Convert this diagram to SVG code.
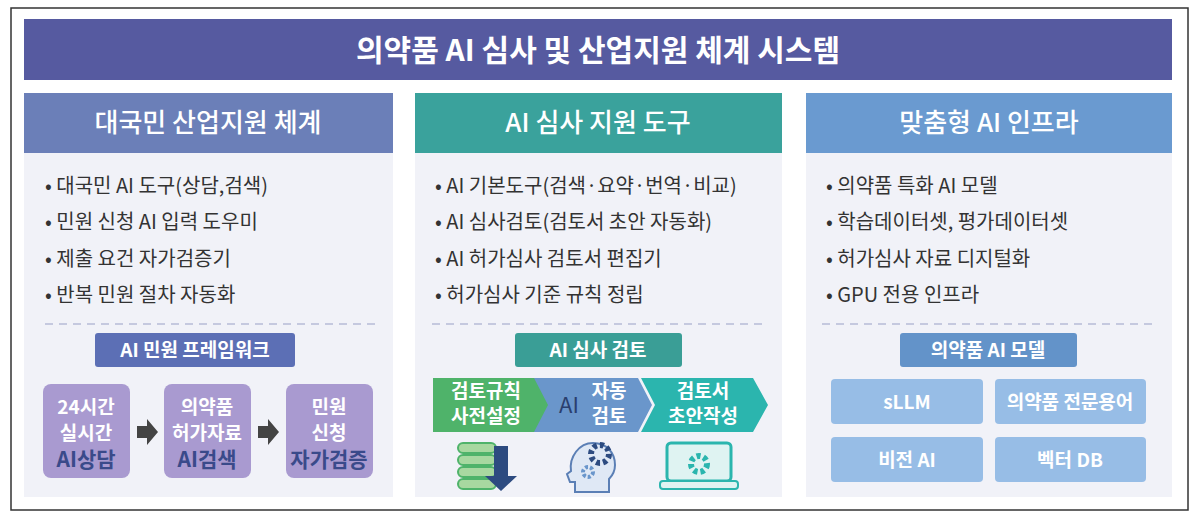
<svg xmlns="http://www.w3.org/2000/svg" width="1200" height="523" viewBox="0 0 1200 523">
<style>
text{font-family:"Noto Sans CJK KR","Noto Sans",sans-serif}
.hd{fill:#fff;font-size:26px;font-weight:500;text-anchor:middle}
.bl{fill:#333;font-size:20px}
.bd{fill:#fff;font-size:19px;font-weight:700;text-anchor:middle}
.bx{font-size:19px;font-weight:700;text-anchor:middle}
.panel{fill:#f1f2f8}
.dash{stroke:#c5c9df;stroke-width:2;stroke-dasharray:8 6}
</style>
<rect width="1200" height="523" fill="#fff"/>
<rect x="11" y="8" width="1177" height="502" fill="#fff" stroke="#333" stroke-width="1.5"/>
<g id="title"><rect x="24" y="19" width="1148" height="61" fill="#565aa0"/><text x="598" y="61" fill="#fff" font-size="30" font-weight="700" text-anchor="middle">의약품 AI 심사 및 산업지원 체계  시스템</text></g>

<g id="col1">
<rect x="24" y="153" width="369" height="344" class="panel"/>
<rect x="24" y="93" width="369" height="60" fill="#6b7fb8"/>
<text x="208" y="132" class="hd">대국민 산업지원 체계</text>
<text x="45" y="193" class="bl">• 대국민 AI 도구(상담,검색)</text>
<text x="45" y="229" class="bl">• 민원 신청 AI 입력 도우미</text>
<text x="45" y="266" class="bl">• 제출 요건 자가검증기</text>
<text x="45" y="302" class="bl">• 반복 민원 절차 자동화</text>
<line x1="45" y1="324" x2="380" y2="324" class="dash"/>
<rect x="95" y="333" width="200" height="34" rx="3" fill="#5c6fb5"/>
<text x="195" y="357" class="bd">AI 민원 프레임워크</text>
<g fill="#a99ad0"><rect x="43" y="384" width="87" height="94" rx="8"/><rect x="164" y="384" width="87" height="94" rx="8"/><rect x="286" y="384" width="87" height="94" rx="8"/></g>
<g class="bx"><text x="86" y="414" fill="#fff">24시간</text><text x="86" y="440" fill="#fff">실시간</text><text x="86" y="467" fill="#3a4a8a" font-size="21">AI상담</text>
<text x="207" y="414" fill="#fff">의약품</text><text x="207" y="440" fill="#fff">허가자료</text><text x="207" y="467" fill="#3a4a8a" font-size="21">AI검색</text>
<text x="329" y="414" fill="#fff">민원</text><text x="329" y="440" fill="#fff">신청</text><text x="329" y="467" fill="#3a4a8a" font-size="21">자가검증</text></g>
<g fill="#444"><path d="M137 426h10v-7l11 13-11 13v-7h-10z"/><path d="M258 426h10v-7l11 13-11 13v-7h-10z"/></g>
</g>

<g id="col2">
<rect x="415" y="153" width="367" height="344" class="panel"/>
<rect x="415" y="93" width="367" height="60" fill="#3aa29c"/>
<text x="598" y="132" class="hd">AI 심사 지원 도구</text>
<text x="435" y="193" class="bl">• AI 기본도구(검색·요약·번역·비교)</text>
<text x="435" y="229" class="bl">• AI 심사검토(검토서 초안 자동화)</text>
<text x="435" y="266" class="bl">• AI 허가심사 검토서 편집기</text>
<text x="435" y="302" class="bl">• 허가심사 기준 규칙 정립</text>
<line x1="432" y1="324" x2="768" y2="324" class="dash"/>
<rect x="515" y="333" width="167" height="34" rx="3" fill="#3a9e96"/>
<text x="598" y="357" class="bd">AI 심사 검토</text>
<path d="M433 378h105l14 27-14 27h-105z" fill="#4fb36a"/>
<path d="M534 378h104l14 27-14 27h-104l14-27z" fill="#6a96cb"/>
<path d="M641 378h112l15 27-15 27h-112l14-27z" fill="#2bb5ae"/>
<g class="bx" font-size="16"><text x="486" y="398" fill="#fff">검토규칙</text><text x="486" y="423" fill="#fff">사전설정</text>
<text x="569" y="413" fill="#2a3f6e" font-size="22" font-weight="400">AI</text><text x="609" y="398" fill="#fff">자동</text><text x="609" y="423" fill="#fff">검토</text>
<text x="703" y="398" fill="#fff">검토서</text><text x="703" y="423" fill="#fff">초안작성</text></g>
<g id="icons">
<g fill="#a8d8a0" stroke="#4fb36a" stroke-width="2"><rect x="458" y="443" width="38" height="10" rx="5"/><rect x="458" y="455" width="38" height="10" rx="5"/><rect x="458" y="467" width="38" height="10" rx="5"/><rect x="458" y="479" width="38" height="10" rx="5"/></g>
<path d="M494 446v30h-9l16 15 16-15h-9v-30z" fill="#2d4b80"/>
<path d="M575 492v-10h-5l-3-8 4-3c-2-14 8-28 22-28 14 0 22 10 22 22 0 8-4 12-6 14v13z" fill="#dfe8f5" stroke="#5b7fb5" stroke-width="2"/>
<circle cx="600" cy="454" r="9" fill="none" stroke="#2d4b80" stroke-width="6" stroke-dasharray="4 3"/>
<circle cx="588" cy="472" r="5" fill="none" stroke="#6a96cb" stroke-width="4" stroke-dasharray="3 2"/>
<rect x="667" y="443" width="64" height="38" rx="4" fill="#dff3f2" stroke="#2bb5ae" stroke-width="3"/>
<rect x="660" y="481" width="78" height="8" rx="3" fill="#dff3f2" stroke="#2bb5ae" stroke-width="2"/>
<circle cx="699" cy="464" r="8" fill="none" stroke="#2bb5ae" stroke-width="6" stroke-dasharray="4 3"/>
</g>
</g>

<g id="col3">
<rect x="806" y="153" width="366" height="344" class="panel"/>
<rect x="806" y="93" width="366" height="60" fill="#6a9ad0"/>
<text x="989" y="132" class="hd">맞춤형 AI 인프라</text>
<text x="826" y="193" class="bl">• 의약품 특화 AI 모델</text>
<text x="826" y="229" class="bl">• 학습데이터셋, 평가데이터셋</text>
<text x="826" y="266" class="bl">• 허가심사 자료 디지털화</text>
<text x="826" y="302" class="bl">• GPU 전용 인프라</text>
<line x1="822" y1="324" x2="1158" y2="324" class="dash"/>
<rect x="900" y="333" width="177" height="34" rx="3" fill="#6393c9"/>
<text x="988" y="357" class="bd">의약품 AI 모델</text>
<g fill="#97bde6"><rect x="831" y="379" width="152" height="45" rx="4"/><rect x="995" y="379" width="151" height="45" rx="4"/><rect x="831" y="437" width="152" height="45" rx="4"/><rect x="995" y="437" width="151" height="45" rx="4"/></g>
<g class="bx" font-size="20" font-weight="500"><text x="907" y="409" fill="#fff">sLLM</text><text x="1070" y="409" fill="#fff">의약품 전문용어</text><text x="907" y="467" fill="#fff">비전 AI</text><text x="1070" y="467" fill="#fff">벡터 DB</text></g>
</g>
</svg>
